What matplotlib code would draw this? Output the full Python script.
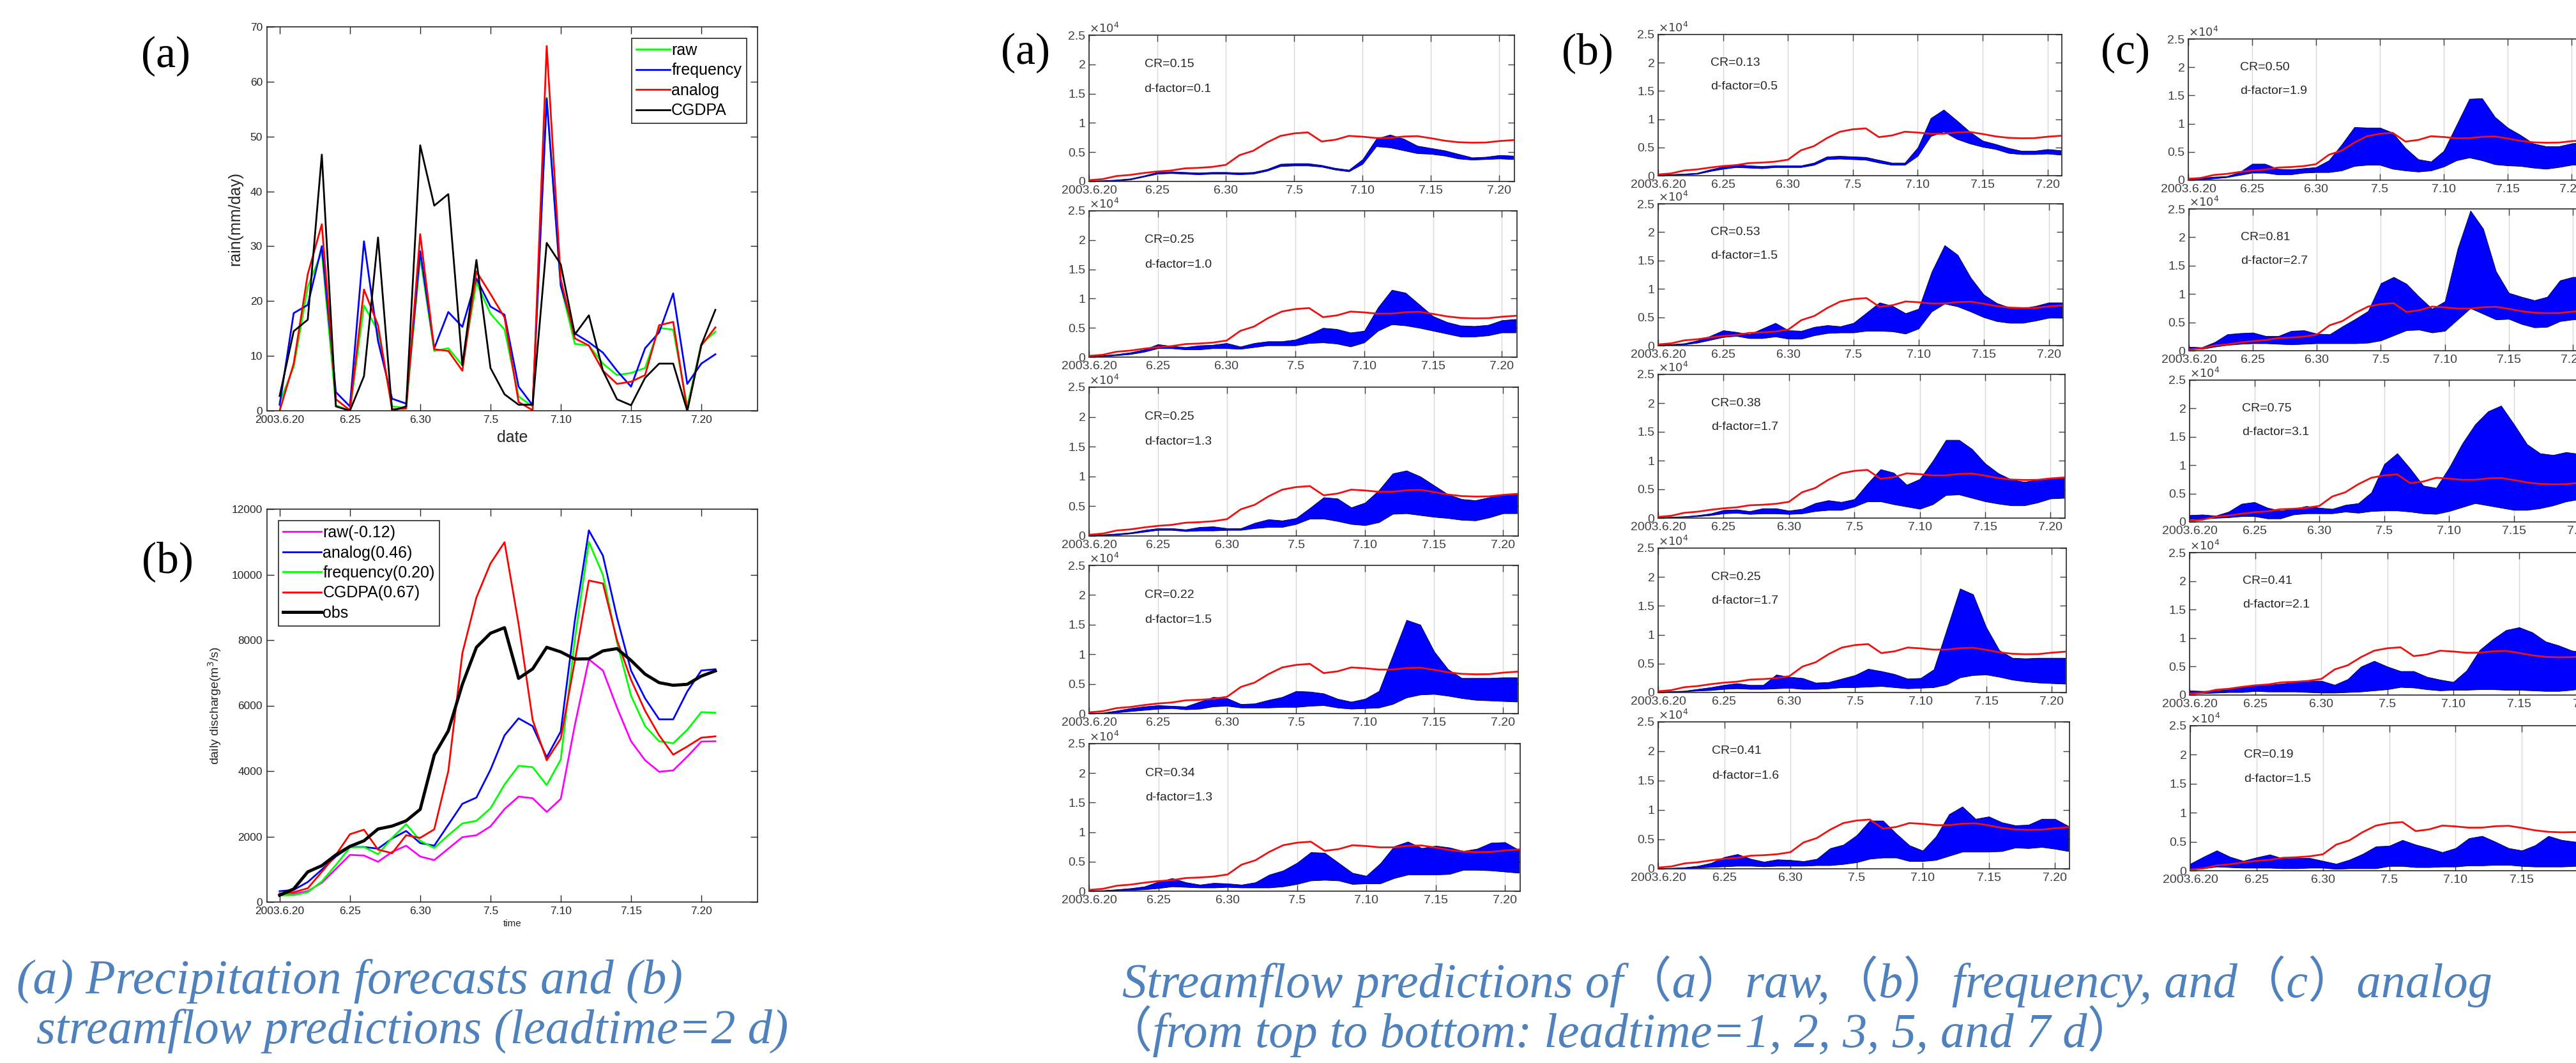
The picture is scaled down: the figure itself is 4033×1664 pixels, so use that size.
import numpy as np
import matplotlib.pyplot as plt

W, H = 4033, 1664
plt.rcParams['font.family'] = ['Liberation Sans', 'DejaVu Sans']

days = np.arange(32)          # 2003.6.20 ... 7.21
tick_days = [0, 5, 10, 15, 20, 25, 30]
tick_labels = ['2003.6.20', '6.25', '6.30', '7.5', '7.10', '7.15', '7.20']

# precipitation forecasts (mm/day), leadtime = 2 d
rain_raw = [1.5, 8.0, 22.6, 29.0, 1.0, 0, 19.2, 14.5, 0.8, 0.5, 28.0, 10.9, 11.4, 8.3, 23.4, 17.7,
            14.8, 2.6, 0.8, 57.1, 22.8, 12.2, 11.9, 8.6, 6.5, 6.9, 7.8, 15.1, 14.8, 0.8, 12.2, 14.4]
rain_freq = [1.1, 17.8, 19.3, 30.0, 3.4, 0.8, 30.9, 12.7, 2.2, 1.3, 29.1, 11.4, 18.0, 15.3, 24.1, 19.0,
             17.5, 4.4, 1.0, 56.9, 22.8, 14.1, 12.5, 10.6, 7.3, 4.4, 11.4, 14.3, 21.4, 4.9, 8.6, 10.3]
rain_analog = [0, 8.6, 24.9, 34.0, 2.1, 0.1, 22.1, 15.6, 0.3, 0.4, 32.2, 11.2, 10.9, 7.3, 25.4, 21.3,
               17.0, 1.6, 0.1, 66.5, 24.0, 13.2, 11.9, 7.3, 4.9, 5.3, 6.5, 15.6, 16.2, 0, 11.9, 15.2]
rain_cgdpa = [2.7, 14.5, 16.6, 46.7, 0.8, 0, 6.3, 31.6, 0, 0.8, 48.4, 37.4, 39.5, 8.3, 27.5, 7.8,
              3.0, 1.1, 1.1, 30.6, 26.7, 13.9, 17.4, 7.3, 2.1, 1.0, 6.0, 8.6, 8.6, 0, 12.0, 18.4]

# daily discharge (m3/s)
q_obs = [208, 400, 920, 1110, 1440, 1700, 1870, 2230, 2320, 2480, 2830, 4490, 5230, 6650, 7780, 8210,
         8380, 6830, 7120, 7780, 7640, 7420, 7430, 7670, 7740, 7380, 6960, 6700, 6620, 6650, 6900, 7060]
q_raw = [200, 250, 330, 590, 1010, 1440, 1420, 1230, 1530, 1720, 1390, 1280, 1630, 1980, 2040, 2310,
         2840, 3220, 3170, 2750, 3150, 5400, 7410, 7070, 5940, 4910, 4330, 3980, 4020, 4440, 4900, 4910]
q_analog = [330, 370, 610, 990, 1390, 1680, 1680, 1630, 1940, 2170, 1800, 1720, 2360, 3000, 3190, 4040,
            5090, 5610, 5370, 4420, 5210, 8590, 11350, 10580, 8690, 7070, 6220, 5580, 5580, 6430, 7070, 7110]
q_freq = [210, 210, 300, 630, 1130, 1670, 1680, 1460, 1960, 2380, 1870, 1650, 2040, 2400, 2480, 2860,
          3590, 4160, 4120, 3570, 4350, 8020, 11000, 9990, 7930, 6300, 5370, 4910, 4850, 5260, 5800, 5780]
q_cgdpa = [260, 300, 420, 920, 1440, 2070, 2210, 1600, 1490, 2040, 1960, 2220, 4000, 7600, 9300, 10340,
           10990, 8490, 5560, 4330, 4990, 7360, 9820, 9730, 8000, 6790, 5840, 5090, 4500, 4750, 5020, 5060]

# prediction bands (m3/s), leadtime 1, 2, 3, 5, 7 d
raw_lt1_lo = [50, 60, 150, 300, 800, 1300, 1400, 1300, 1200, 1300, 1300, 1200, 1300, 1800, 2600, 2700,
              2700, 2500, 2000, 1700, 3000, 6000, 5800, 5300, 4800, 4700, 4400, 3900, 3700, 3800, 3900, 3800]
raw_lt1_up = [150, 180, 300, 500, 1000, 1600, 1700, 1600, 1500, 1600, 1600, 1500, 1600, 2100, 3000, 3100,
              3100, 2800, 2300, 2000, 3800, 7300, 8000, 7300, 6100, 5700, 5300, 4700, 4100, 4200, 4500, 4400]
raw_lt2_lo = [100, 150, 300, 500, 900, 1500, 1500, 1300, 1300, 1500, 1500, 1400, 1700, 2000, 2000, 2000,
              2400, 2500, 2300, 1800, 2500, 4500, 5600, 5400, 5000, 4500, 4000, 3500, 3500, 3700, 4200, 4200]
raw_lt2_up = [200, 300, 500, 800, 1300, 2200, 1900, 1700, 2000, 2100, 2400, 1800, 2400, 2700, 2700, 3000,
              3900, 5000, 4800, 4200, 4500, 8500, 11500, 11000, 9000, 7000, 6000, 5400, 5300, 5500, 6300, 6500]
raw_lt3_lo = [50, 100, 200, 400, 700, 1000, 1000, 800, 900, 900, 1000, 1000, 1300, 1500, 1500, 2000,
              2900, 2900, 2500, 2000, 1800, 2300, 3700, 3800, 3500, 3200, 3000, 2700, 2600, 3100, 3800, 3800]
raw_lt3_up = [150, 250, 400, 600, 1000, 1300, 1300, 1100, 1500, 1600, 1300, 1300, 2200, 2800, 2600, 3000,
              4700, 6500, 6300, 4800, 5600, 7700, 10500, 11000, 10000, 8500, 7000, 6200, 6000, 6500, 7000, 7000]
raw_lt5_lo = [50, 50, 200, 400, 600, 800, 900, 700, 800, 1200, 1300, 1000, 1000, 1000, 1100, 1100,
              1300, 1400, 1000, 800, 900, 1000, 1600, 2700, 3200, 3300, 3000, 2600, 2300, 2200, 2100, 2000]
raw_lt5_up = [100, 150, 500, 900, 1200, 1400, 1300, 1200, 2000, 2800, 2600, 1600, 1700, 2300, 2800, 3800,
              3700, 3400, 2500, 2000, 2500, 3800, 9800, 15800, 15000, 10500, 7500, 6000, 6000, 6000, 6100, 6100]
raw_lt7_lo = [0, 0, 100, 200, 300, 500, 800, 700, 600, 600, 700, 600, 600, 600, 800, 1200,
              1800, 1900, 1800, 1200, 1300, 1300, 2200, 2800, 2800, 2800, 2900, 3600, 3600, 3500, 3300, 3100]
raw_lt7_up = [100, 150, 300, 500, 800, 1600, 2200, 1500, 1100, 1400, 1300, 1100, 1500, 2800, 3500, 4800,
              6600, 6500, 4800, 3100, 2600, 4700, 7600, 8400, 7300, 7700, 7400, 6800, 7200, 8200, 8300, 7000]

freq_lt1_lo = [50, 100, 200, 300, 800, 1200, 1500, 1400, 1300, 1500, 1500, 1500, 1900, 2900, 3000, 2900,
               2800, 2300, 1900, 1900, 3500, 7000, 7800, 6500, 5700, 5100, 4700, 4000, 3800, 3800, 3900, 3700]
freq_lt1_up = [150, 250, 350, 500, 1100, 1600, 2000, 1800, 1700, 1800, 1800, 1800, 2300, 3400, 3500, 3400,
               3300, 2800, 2300, 2300, 5000, 10200, 11700, 9800, 7800, 6200, 5600, 4900, 4400, 4400, 4700, 4500]
freq_lt2_lo = [50, 100, 200, 500, 1000, 1500, 1700, 1300, 1300, 1600, 1200, 1200, 1800, 2200, 2300, 2300,
               2600, 2600, 2500, 2100, 3000, 6000, 7400, 6900, 6000, 5000, 4300, 4000, 4000, 4400, 4900, 4900]
freq_lt2_up = [150, 250, 400, 900, 1700, 2700, 2400, 2000, 3000, 4000, 2700, 2600, 3300, 3600, 3400, 4000,
               5800, 7600, 7000, 5700, 6500, 13000, 17700, 16000, 12000, 9000, 7500, 6700, 6600, 7000, 7600, 7600]
freq_lt3_lo = [50, 100, 200, 300, 500, 800, 900, 700, 800, 800, 700, 800, 1200, 1400, 1400, 2000,
               2900, 2900, 2400, 2000, 1600, 2400, 4000, 4100, 3500, 2900, 2500, 2200, 2200, 2700, 3400, 3500]
freq_lt3_up = [150, 200, 300, 500, 800, 1400, 1500, 1200, 1700, 1700, 1300, 1600, 2600, 3100, 2800, 3300,
               6000, 8500, 7900, 5800, 6800, 10000, 13600, 13600, 12000, 9500, 7800, 6700, 6300, 6700, 7000, 7000]
freq_lt5_lo = [50, 100, 200, 300, 400, 600, 700, 600, 600, 700, 800, 600, 600, 700, 900, 900,
               1000, 1100, 900, 700, 800, 900, 1400, 2600, 3000, 3100, 2700, 2200, 1900, 1700, 1600, 1500]
freq_lt5_up = [150, 200, 300, 600, 900, 1300, 1600, 1300, 1300, 3100, 2700, 2500, 1700, 1800, 2400, 3000,
               4100, 3700, 3200, 2400, 2500, 4000, 11000, 18000, 17000, 11300, 7300, 6000, 5900, 6000, 6000, 6000]
freq_lt7_lo = [0, 50, 100, 200, 300, 400, 500, 500, 400, 500, 500, 500, 600, 600, 800, 1100,
               1700, 1900, 1900, 1300, 1300, 1500, 2200, 2900, 2900, 2900, 3000, 3600, 3500, 3700, 3400, 3000]
freq_lt7_up = [100, 150, 250, 500, 1000, 2000, 2500, 1700, 1200, 1600, 1500, 1300, 1700, 3500, 4100, 5700,
               8200, 8200, 6000, 4000, 3100, 5500, 9300, 10600, 8500, 8900, 7900, 7400, 7500, 8500, 8500, 7300]

analog_lt1_lo = [100, 100, 300, 500, 900, 1300, 1300, 1000, 1000, 1300, 1400, 1400, 1700, 2500, 2700, 2700,
                 2000, 1700, 1500, 1700, 2400, 3500, 4000, 3500, 2800, 2600, 2500, 2200, 2000, 2300, 2700, 2800]
analog_lt1_up = [400, 400, 600, 700, 1400, 2900, 2900, 2000, 1900, 2100, 2300, 3500, 6300, 9400, 9300, 9300,
                 8400, 5700, 3700, 3300, 5200, 9800, 14400, 14500, 11200, 9300, 8000, 6500, 6000, 6000, 6500, 6800]
analog_lt2_lo = [400, 300, 700, 1000, 1200, 1300, 1300, 1200, 1100, 1200, 1300, 1300, 1300, 1300, 1400, 1800,
                 2700, 3600, 3700, 3200, 3500, 5500, 7500, 6500, 5500, 5600, 4700, 4100, 4200, 5200, 5500, 5500]
analog_lt2_up = [700, 600, 1500, 2900, 3100, 3200, 2600, 2600, 3500, 3600, 3000, 2900, 4300, 5600, 7000, 11900,
                 13000, 11800, 9500, 7400, 8700, 18000, 24700, 21500, 14000, 10200, 9500, 8900, 9500, 12400, 13000, 13000]
analog_lt3_lo = [500, 600, 700, 800, 1000, 1000, 600, 600, 1300, 1500, 1500, 1500, 1800, 1600, 1900, 2000,
                 2000, 1800, 1500, 1400, 1900, 2600, 3300, 2900, 2500, 2100, 2100, 2400, 2900, 3600, 4000, 4000]
analog_lt3_up = [1200, 1300, 1100, 1800, 3200, 3500, 2500, 2000, 2300, 2800, 2500, 2300, 3000, 3300, 5200, 10200,
                 12100, 9400, 6400, 6000, 9600, 13800, 17200, 19500, 20500, 17200, 13700, 12100, 11800, 12300, 12000, 12000]
analog_lt5_lo = [300, 300, 400, 500, 500, 700, 600, 600, 600, 500, 400, 400, 500, 600, 800, 1000,
                 1400, 1300, 1000, 800, 900, 900, 1000, 1000, 900, 900, 800, 700, 700, 900, 1200, 1300]
analog_lt5_up = [800, 700, 800, 1000, 1400, 1700, 1800, 2000, 2300, 2500, 2500, 1800, 2800, 5000, 6000, 5000,
                 4200, 4200, 3200, 2700, 2300, 4300, 7900, 9800, 11400, 11900, 11000, 9400, 8700, 7800, 7500, 7000]
analog_lt7_lo = [200, 400, 700, 600, 500, 500, 500, 400, 400, 500, 500, 300, 400, 400, 400, 800,
                 800, 600, 600, 700, 700, 900, 900, 1000, 1000, 800, 700, 700, 700, 800, 900, 900]
analog_lt7_up = [1200, 2400, 3500, 2400, 1700, 2300, 2800, 2100, 2200, 2200, 1700, 1200, 1900, 2900, 4200, 4300,
                 5300, 4500, 3900, 3200, 3900, 5600, 6000, 5000, 3900, 3500, 4400, 6000, 5300, 5000, 5000, 5000]

cr_raw = [0.15, 0.25, 0.25, 0.22, 0.34]
df_raw = [0.1, 1.0, 1.3, 1.5, 1.3]
cr_freq = [0.13, 0.53, 0.38, 0.25, 0.41]
df_freq = [0.5, 1.5, 1.7, 1.7, 1.6]
cr_analog = [0.50, 0.81, 0.75, 0.41, 0.19]
df_analog = [1.9, 2.7, 3.1, 2.1, 1.5]

DARK = '#262626'
fig = plt.figure(figsize=(W / 100, H / 100), dpi=100)
fig.patch.set_facecolor('white')


def add_px_axes(l, t, r, b):
    # box given in pixels of the final image
    return fig.add_axes([l / W, 1 - b / H, (r - l) / W, (b - t) / H])


def matlab_box(ax, labelsize, ticklen):
    ax.tick_params(direction='in', top=True, right=True, length=ticklen, width=1,
                   colors=DARK, labelsize=labelsize, pad=5)
    for s in ax.spines.values():
        s.set_color(DARK)
        s.set_linewidth(1.2)
    ax.set_xticks(tick_days)
    ax.set_xticklabels(tick_labels)


# ---- left (a): precipitation
ax = add_px_axes(418, 42, 1186, 643)
ax.plot(days, rain_raw, color='#00ff00', lw=2, label='raw')
ax.plot(days, rain_freq, color='#0000ff', lw=2, label='frequency')
ax.plot(days, rain_analog, color='#ff0000', lw=2, label='analog')
ax.plot(days, rain_cgdpa, color='black', lw=2, label='CGDPA')
ax.set_xlim(-0.9, 34)
ax.set_ylim(0, 70)
ax.set_yticks(range(0, 71, 10))
matlab_box(ax, 12.5, 8)
ax.set_xlabel('date', fontsize=18, color=DARK, labelpad=6)
ax.set_ylabel('rain(mm/day)', fontsize=18, color=DARK, labelpad=8)
leg = ax.legend(loc='upper right', fontsize=18, handlelength=2.1, handletextpad=0.1,
                labelspacing=0.3, borderaxespad=0.7, fancybox=False, framealpha=1,
                borderpad=0.3)
leg.get_frame().set_edgecolor(DARK)
leg.get_frame().set_linewidth(1.2)

# ---- left (b): discharge
ax = add_px_axes(418, 797, 1186, 1412)
ax.plot(days, q_raw, color='#ff00ff', lw=2, label='raw(-0.12)')
ax.plot(days, q_analog, color='#0000ff', lw=2, label='analog(0.46)')
ax.plot(days, q_freq, color='#00ff00', lw=2, label='frequency(0.20)')
ax.plot(days, q_cgdpa, color='#ff0000', lw=2, label='CGDPA(0.67)')
ax.plot(days, q_obs, color='black', lw=3.5, label='obs')
ax.set_xlim(-0.9, 34)
ax.set_ylim(0, 12000)
ax.set_yticks(range(0, 12001, 2000))
matlab_box(ax, 12.5, 8)
ax.set_xlabel('time', fontsize=11, color=DARK, labelpad=4)
ax.set_ylabel('daily discharge(m$^3$/s)', fontsize=14, color=DARK, labelpad=10)
leg = ax.legend(loc='upper left', fontsize=18, handlelength=2.4, handletextpad=0.1,
                labelspacing=0.3, borderaxespad=0.7, fancybox=False, framealpha=1,
                borderpad=0.3)
leg.get_frame().set_edgecolor(DARK)
leg.get_frame().set_linewidth(1.2)

for txt, x, y in [('(a)', 259, 88), ('(b)', 262, 879), ('(a)', 1605, 83),
                  ('(b)', 2485, 83), ('(c)', 3328, 83)]:
    fig.text(x / W, 1 - y / H, txt, fontsize=50, family='Liberation Serif',
             ha='center', va='center')

# ---- streamflow prediction bands
columns = [
    dict(left=[1705] * 5, right=[2371, 2375, 2377, 2377, 2380],
         top=[55, 330, 606, 885, 1164], bottom=[284, 559, 839, 1117, 1395],
         bands=[(raw_lt1_lo, raw_lt1_up), (raw_lt2_lo, raw_lt2_up), (raw_lt3_lo, raw_lt3_up),
                (raw_lt5_lo, raw_lt5_up), (raw_lt7_lo, raw_lt7_up)],
         cr=cr_raw, df=df_raw),
    dict(left=[2596] * 5, right=[3228, 3230, 3233, 3235, 3240],
         top=[54, 319, 586, 858, 1130], bottom=[275, 541, 811, 1084, 1360],
         bands=[(freq_lt1_lo, freq_lt1_up), (freq_lt2_lo, freq_lt2_up), (freq_lt3_lo, freq_lt3_up),
                (freq_lt5_lo, freq_lt5_up), (freq_lt7_lo, freq_lt7_up)],
         cr=cr_freq, df=df_freq),
    dict(left=[3426, 3427, 3428, 3428, 3429], right=[4048, 4050, 4060, 4070, 4075],
         top=[61, 327, 595, 865, 1136], bottom=[282, 549, 817, 1088, 1363],
         bands=[(analog_lt1_lo, analog_lt1_up), (analog_lt2_lo, analog_lt2_up),
                (analog_lt3_lo, analog_lt3_up), (analog_lt5_lo, analog_lt5_up),
                (analog_lt7_lo, analog_lt7_up)],
         cr=cr_analog, df=df_analog),
]

for col in columns:
    for i in range(5):
        ax = add_px_axes(col['left'][i], col['top'][i], col['right'][i], col['bottom'][i])
        lo, up = col['bands'][i]
        ax.fill_between(days, lo, up, facecolor='#0000ff', edgecolor='#000033', lw=0.6, zorder=2)
        ax.plot(days, q_obs, color='#ee1111', lw=2, zorder=3)
        ax.set_xlim(0, 31.1)
        ax.set_ylim(0, 25000)
        ax.set_yticks(range(0, 25001, 5000))
        ax.set_yticklabels(['0', '0.5', '1', '1.5', '2', '2.5'])
        matlab_box(ax, 14, 7)
        ax.tick_params(colors='#404040', pad=4)
        ax.grid(axis='x', color='#d9d9d9', lw=1, zorder=0)
        ax.text(0.0, 1.0, r'$\times10^4$', transform=ax.transAxes, ha='left', va='bottom',
                fontsize=13, color='#404040')
        ax.text(0.13, 0.80, f"CR={col['cr'][i]:.2f}", transform=ax.transAxes,
                fontsize=14, color=DARK, va='center')
        ax.text(0.13, 0.633, f"d-factor={col['df'][i]:.1f}", transform=ax.transAxes,
                fontsize=14, color=DARK, va='center')

# ---- captions
cap = dict(fontsize=55, style='italic', color='#4f81bd', family=['Liberation Serif', 'Noto Sans CJK SC'],
           ha='left', va='center')
fig.text(26 / W, 1 - 1536 / H, '(a) Precipitation forecasts and (b)', **cap)
fig.text(57 / W, 1 - 1614 / H, 'streamflow predictions (leadtime=2 d)', **cap)
fig.text(1757 / W, 1 - 1536 / H, 'Streamflow predictions of\uff08a\uff09raw,\uff08b\uff09frequency, and\uff08c\uff09analog', **cap)
fig.text(1728 / W, 1 - 1614 / H, '\uff08from top to bottom: leadtime=1, 2, 3, 5, and 7 d\uff09', **cap)

fig.savefig('out.png', dpi=100, facecolor='white')
